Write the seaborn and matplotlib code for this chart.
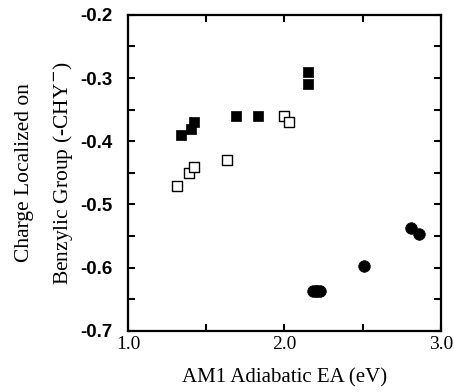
import numpy as np
import pandas as pd
import matplotlib
matplotlib.use("Agg")
import matplotlib.pyplot as plt
from matplotlib.ticker import MultipleLocator, FormatStrFormatter
import seaborn as sns

# Data
filled_sq_x = [1.34, 1.40, 1.42, 1.69, 1.83, 2.15, 2.15]
filled_sq_y = [-0.39, -0.38, -0.37, -0.36, -0.36, -0.29, -0.31]
open_sq_x = [1.31, 1.39, 1.42, 1.63, 2.00, 2.03]
open_sq_y = [-0.47, -0.45, -0.44, -0.43, -0.36, -0.37]
circle_x = [2.18, 2.20, 2.21, 2.23, 2.51, 2.81, 2.86]
circle_y = [-0.637, -0.637, -0.637, -0.637, -0.597, -0.537, -0.546]

sns.set_theme(style="ticks")
plt.rcParams['font.family'] = ['Liberation Serif', 'DejaVu Serif']
plt.rcParams['text.color'] = 'black'
plt.rcParams['axes.labelcolor'] = 'black'
plt.rcParams['xtick.color'] = 'black'
plt.rcParams['ytick.color'] = 'black'

fig = plt.figure(figsize=(4.54, 3.92), dpi=100)
ax = fig.add_axes([0.282, 0.156, 0.689, 0.806])

df_f = pd.DataFrame({"x": filled_sq_x, "y": filled_sq_y})
df_o = pd.DataFrame({"x": open_sq_x, "y": open_sq_y})
df_c = pd.DataFrame({"x": circle_x, "y": circle_y})

sns.scatterplot(data=df_f, x="x", y="y", ax=ax, marker="s", s=50,
                color="black", edgecolor="black", linewidth=0.5, legend=False)
sns.scatterplot(data=df_o, x="x", y="y", ax=ax, marker="s", s=42,
                facecolor="white", edgecolor="black", linewidth=1.0, legend=False)
sns.scatterplot(data=df_c, x="x", y="y", ax=ax, marker="o", s=70,
                color="black", edgecolor="black", linewidth=0.5, legend=False)

ax.set_xlim(1.0, 3.0)
ax.set_ylim(-0.7, -0.2)
ax.xaxis.set_major_locator(MultipleLocator(1.0))
ax.xaxis.set_minor_locator(MultipleLocator(0.5))
ax.yaxis.set_major_locator(MultipleLocator(0.1))
ax.yaxis.set_minor_locator(MultipleLocator(0.05))
ax.xaxis.set_major_formatter(FormatStrFormatter('%.1f'))
ax.yaxis.set_major_formatter(FormatStrFormatter('%.1f'))

ax.tick_params(which='both', direction='in', top=True, right=True,
               length=5, width=1.5, color='black')
ax.tick_params(axis='x', pad=4)
ax.tick_params(axis='y', pad=11)
for lab in ax.get_xticklabels():
    lab.set_fontfamily(['Liberation Serif'])
    lab.set_fontsize(14)
    lab.set_color('black')
for lab in ax.get_yticklabels():
    lab.set_fontfamily(['Liberation Sans'])
    lab.set_fontsize(13.5)
    lab.set_fontweight('bold')
    lab.set_color('black')

for sp in ax.spines.values():
    sp.set_linewidth(1.6)
    sp.set_color('black')

ax.set_xlabel("AM1 Adiabatic EA (eV)", fontsize=15, labelpad=11, color='black')
ax.set_ylabel("Charge Localized on\nBenzylic Group (-CHY$^{-}$)", fontsize=15.5,
              labelpad=4, linespacing=2.0, color='black')

fig.savefig("out.png", dpi=100)
